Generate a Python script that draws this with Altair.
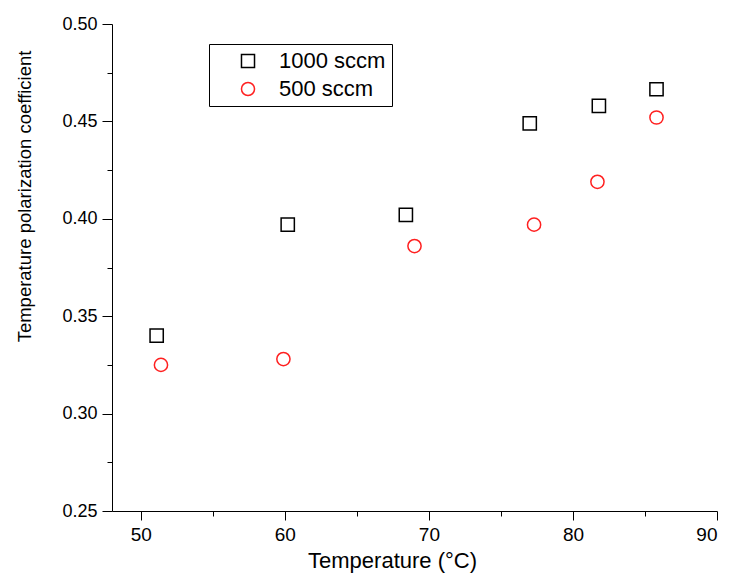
import altair as alt
import pandas as pd

# ---- data ----
series_names = ["1000 sccm", "500 sccm"]
temp_1000 = [51.1, 60.2, 68.4, 77.0, 81.8, 85.8]
coef_1000 = [0.340, 0.397, 0.402, 0.449, 0.458, 0.4665]
temp_500 = [51.4, 59.9, 69.0, 77.3, 81.7, 85.8]
coef_500 = [0.325, 0.328, 0.386, 0.397, 0.419, 0.452]

x_major = [50, 60, 70, 80, 90]
x_minor = [55, 65, 75, 85]
y_major = [0.25, 0.30, 0.35, 0.40, 0.45, 0.50]
y_minor = [0.275, 0.325, 0.375, 0.425, 0.475]

df = pd.DataFrame({
    "x": temp_1000 + temp_500,
    "y": coef_1000 + coef_500,
    "series": [series_names[0]] * len(temp_1000) + [series_names[1]] * len(temp_500),
})

FONT = "Liberation Sans"
xscale = alt.Scale(domain=[48, 90], nice=False, zero=False)
yscale = alt.Scale(domain=[0.25, 0.50], nice=False, zero=False)

legend_opts = dict(title=None, orient="none", legendX=97, legendY=20,
                   strokeColor="black", fillColor="white", padding=6,
                   symbolOffset=22, labelOffset=20, rowPadding=6,
                   labelFont=FONT, labelFontSize=22, labelColor="black",
                   symbolSize=170, symbolStrokeWidth=1.5, labelLimit=300)

points = alt.Chart(df).mark_point(filled=False, size=175, strokeWidth=1.5, opacity=1).encode(
    x=alt.X("x:Q", scale=xscale, axis=alt.Axis(
        values=x_major, format="d", orient="bottom", grid=False,
        tickSize=9, labelPadding=5, labelFontSize=19, labelFont=FONT, labelColor="black",
        title="Temperature (°C)", titleFont=FONT, titleFontSize=22, titleFontWeight="normal",
        titleColor="black", titleX=280, titleY=56, titleBaseline="alphabetic", titleAlign="center")),
    y=alt.Y("y:Q", scale=yscale, axis=alt.Axis(
        values=y_major, format=".2f", orient="left", grid=False,
        tickSize=10, labelPadding=5, labelFontSize=18, labelFont=FONT, labelColor="black",
        title="Temperature polarization coefficient", titleFont=FONT, titleFontSize=18.5,
        titleFontWeight="normal", titleColor="black", titleX=-88, titleY=172,
        titleAngle=270, titleBaseline="middle", titleAlign="center")),
    color=alt.Color("series:N", scale=alt.Scale(domain=series_names, range=["black", "#ff2020"]),
                    legend=alt.Legend(**legend_opts)),
    shape=alt.Shape("series:N", scale=alt.Scale(domain=series_names, range=["square", "circle"]),
                    legend=alt.Legend(**legend_opts)),
)

minor = alt.Chart(df).mark_point(opacity=0).encode(
    x=alt.X("x:Q", scale=xscale, axis=alt.Axis(
        values=x_minor, orient="bottom", labels=False, tickSize=5, domain=False,
        grid=False, title=None)),
    y=alt.Y("y:Q", scale=yscale, axis=alt.Axis(
        values=y_minor, orient="left", labels=False, tickSize=5, domain=False,
        grid=False, title=None)),
)

chart = alt.layer(points, minor).resolve_axis(x="independent", y="independent").properties(
    width=605, height=487,
    autosize=alt.AutoSizeParams(type="none"),
    padding={"left": 104, "top": 16, "right": 10, "bottom": 65},
    background="white",
).configure_view(stroke=None).configure_axis(
    domainColor="black", tickColor="black", domainWidth=1, tickWidth=1
)

chart.save("out.html", embed_options={"renderer": "svg", "actions": False})
